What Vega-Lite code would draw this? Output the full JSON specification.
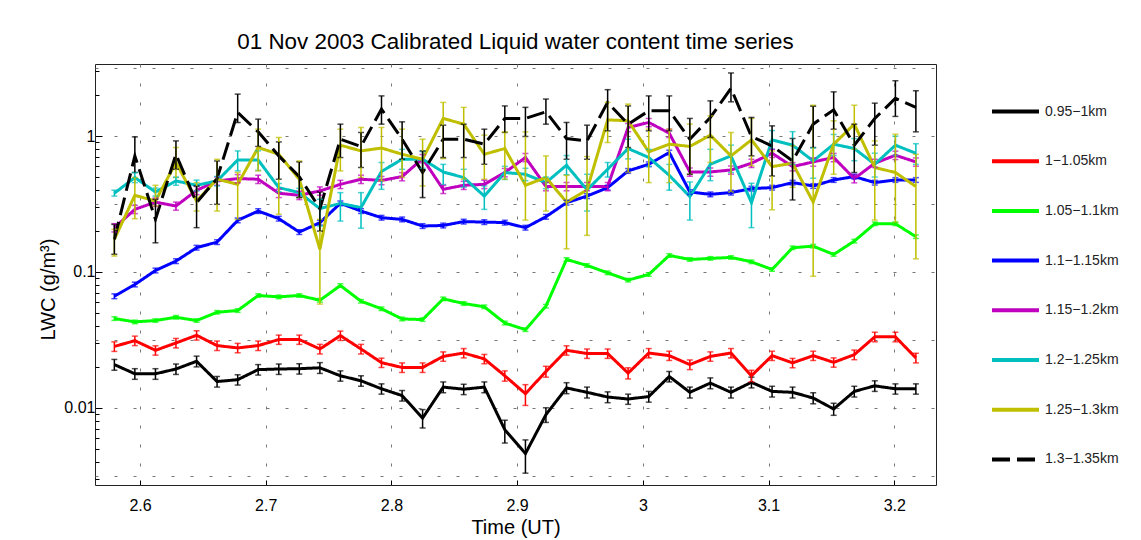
{
"$schema": "https://vega.github.io/schema/vega-lite/v6.json",
"width": 841, "height": 421,
"autosize": {"type": "none"},
"padding": {"left": 95, "top": 64, "right": 205, "bottom": 55},
"background": "white",
"config": {"view": {"stroke": "#222", "strokeWidth": 1}, "font": "Liberation Sans"},
"title": {"text": "01 Nov 2003 Calibrated Liquid water content time series", "fontSize": 22.4, "fontWeight": "normal", "font": "Liberation Sans", "color": "#000", "anchor": "middle", "baseline": "bottom", "offset": -12},
"data": {"values": [
{"t":2.5796,"s":"0.95−1km","v":0.0208,"lo":0.0189,"hi":0.0227},
{"t":2.5959,"s":"0.95−1km","v":0.0178,"lo":0.0162,"hi":0.0194},
{"t":2.6123,"s":"0.95−1km","v":0.0178,"lo":0.0162,"hi":0.0194},
{"t":2.6286,"s":"0.95−1km","v":0.0193,"lo":0.0176,"hi":0.0210},
{"t":2.6450,"s":"0.95−1km","v":0.0220,"lo":0.0200,"hi":0.0240},
{"t":2.6613,"s":"0.95−1km","v":0.0156,"lo":0.0142,"hi":0.0170},
{"t":2.6777,"s":"0.95−1km","v":0.0161,"lo":0.0147,"hi":0.0175},
{"t":2.6940,"s":"0.95−1km","v":0.0191,"lo":0.0174,"hi":0.0208},
{"t":2.7104,"s":"0.95−1km","v":0.0193,"lo":0.0176,"hi":0.0210},
{"t":2.7267,"s":"0.95−1km","v":0.0194,"lo":0.0177,"hi":0.0211},
{"t":2.7431,"s":"0.95−1km","v":0.0197,"lo":0.0179,"hi":0.0215},
{"t":2.7594,"s":"0.95−1km","v":0.0172,"lo":0.0157,"hi":0.0187},
{"t":2.7758,"s":"0.95−1km","v":0.0158,"lo":0.0144,"hi":0.0172},
{"t":2.7921,"s":"0.95−1km","v":0.0138,"lo":0.0126,"hi":0.0150},
{"t":2.8085,"s":"0.95−1km","v":0.0123,"lo":0.0112,"hi":0.0134},
{"t":2.8248,"s":"0.95−1km","v":0.0084,"lo":0.0071,"hi":0.0097},
{"t":2.8412,"s":"0.95−1km","v":0.0142,"lo":0.0129,"hi":0.0155},
{"t":2.8575,"s":"0.95−1km","v":0.0137,"lo":0.0125,"hi":0.0149},
{"t":2.8739,"s":"0.95−1km","v":0.0142,"lo":0.0129,"hi":0.0155},
{"t":2.8902,"s":"0.95−1km","v":0.0069,"lo":0.0055,"hi":0.0081},
{"t":2.9066,"s":"0.95−1km","v":0.0046,"lo":0.0033,"hi":0.0058},
{"t":2.9229,"s":"0.95−1km","v":0.0089,"lo":0.0078,"hi":0.0100},
{"t":2.9393,"s":"0.95−1km","v":0.0140,"lo":0.0127,"hi":0.0153},
{"t":2.9556,"s":"0.95−1km","v":0.0130,"lo":0.0118,"hi":0.0142},
{"t":2.9720,"s":"0.95−1km","v":0.0120,"lo":0.0109,"hi":0.0131},
{"t":2.9883,"s":"0.95−1km","v":0.0116,"lo":0.0106,"hi":0.0126},
{"t":3.0047,"s":"0.95−1km","v":0.0121,"lo":0.0110,"hi":0.0132},
{"t":3.0210,"s":"0.95−1km","v":0.0170,"lo":0.0155,"hi":0.0185},
{"t":3.0374,"s":"0.95−1km","v":0.0130,"lo":0.0118,"hi":0.0142},
{"t":3.0537,"s":"0.95−1km","v":0.0152,"lo":0.0138,"hi":0.0166},
{"t":3.0701,"s":"0.95−1km","v":0.0130,"lo":0.0118,"hi":0.0142},
{"t":3.0864,"s":"0.95−1km","v":0.0154,"lo":0.0140,"hi":0.0168},
{"t":3.1028,"s":"0.95−1km","v":0.0132,"lo":0.0120,"hi":0.0144},
{"t":3.1191,"s":"0.95−1km","v":0.0130,"lo":0.0118,"hi":0.0142},
{"t":3.1355,"s":"0.95−1km","v":0.0118,"lo":0.0107,"hi":0.0129},
{"t":3.1518,"s":"0.95−1km","v":0.0098,"lo":0.0088,"hi":0.0108},
{"t":3.1682,"s":"0.95−1km","v":0.0132,"lo":0.0120,"hi":0.0144},
{"t":3.1845,"s":"0.95−1km","v":0.0145,"lo":0.0132,"hi":0.0158},
{"t":3.2009,"s":"0.95−1km","v":0.0138,"lo":0.0126,"hi":0.0150},
{"t":3.2172,"s":"0.95−1km","v":0.0138,"lo":0.0126,"hi":0.0150},
{"t":2.5796,"s":"1−1.05km","v":0.0283,"lo":0.0260,"hi":0.0306},
{"t":2.5959,"s":"1−1.05km","v":0.0312,"lo":0.0287,"hi":0.0337},
{"t":2.6123,"s":"1−1.05km","v":0.0265,"lo":0.0244,"hi":0.0286},
{"t":2.6286,"s":"1−1.05km","v":0.0300,"lo":0.0276,"hi":0.0324},
{"t":2.6450,"s":"1−1.05km","v":0.0342,"lo":0.0315,"hi":0.0369},
{"t":2.6613,"s":"1−1.05km","v":0.0287,"lo":0.0264,"hi":0.0310},
{"t":2.6777,"s":"1−1.05km","v":0.0276,"lo":0.0254,"hi":0.0298},
{"t":2.6940,"s":"1−1.05km","v":0.0287,"lo":0.0264,"hi":0.0310},
{"t":2.7104,"s":"1−1.05km","v":0.0318,"lo":0.0293,"hi":0.0343},
{"t":2.7267,"s":"1−1.05km","v":0.0318,"lo":0.0293,"hi":0.0343},
{"t":2.7431,"s":"1−1.05km","v":0.0271,"lo":0.0249,"hi":0.0293},
{"t":2.7594,"s":"1−1.05km","v":0.0340,"lo":0.0313,"hi":0.0367},
{"t":2.7758,"s":"1−1.05km","v":0.0271,"lo":0.0249,"hi":0.0293},
{"t":2.7921,"s":"1−1.05km","v":0.0215,"lo":0.0198,"hi":0.0232},
{"t":2.8085,"s":"1−1.05km","v":0.0198,"lo":0.0182,"hi":0.0214},
{"t":2.8248,"s":"1−1.05km","v":0.0198,"lo":0.0182,"hi":0.0214},
{"t":2.8412,"s":"1−1.05km","v":0.0239,"lo":0.0220,"hi":0.0258},
{"t":2.8575,"s":"1−1.05km","v":0.0253,"lo":0.0233,"hi":0.0273},
{"t":2.8739,"s":"1−1.05km","v":0.0229,"lo":0.0211,"hi":0.0247},
{"t":2.8902,"s":"1−1.05km","v":0.0172,"lo":0.0157,"hi":0.0187},
{"t":2.9066,"s":"1−1.05km","v":0.0127,"lo":0.0104,"hi":0.0148},
{"t":2.9229,"s":"1−1.05km","v":0.0185,"lo":0.0168,"hi":0.0202},
{"t":2.9393,"s":"1−1.05km","v":0.0265,"lo":0.0244,"hi":0.0286},
{"t":2.9556,"s":"1−1.05km","v":0.0251,"lo":0.0231,"hi":0.0271},
{"t":2.9720,"s":"1−1.05km","v":0.0251,"lo":0.0231,"hi":0.0271},
{"t":2.9883,"s":"1−1.05km","v":0.0180,"lo":0.0163,"hi":0.0197},
{"t":3.0047,"s":"1−1.05km","v":0.0253,"lo":0.0233,"hi":0.0273},
{"t":3.0210,"s":"1−1.05km","v":0.0242,"lo":0.0223,"hi":0.0261},
{"t":3.0374,"s":"1−1.05km","v":0.0208,"lo":0.0191,"hi":0.0225},
{"t":3.0537,"s":"1−1.05km","v":0.0239,"lo":0.0220,"hi":0.0258},
{"t":3.0701,"s":"1−1.05km","v":0.0253,"lo":0.0233,"hi":0.0273},
{"t":3.0864,"s":"1−1.05km","v":0.0172,"lo":0.0155,"hi":0.0189},
{"t":3.1028,"s":"1−1.05km","v":0.0242,"lo":0.0223,"hi":0.0261},
{"t":3.1191,"s":"1−1.05km","v":0.0214,"lo":0.0197,"hi":0.0231},
{"t":3.1355,"s":"1−1.05km","v":0.0242,"lo":0.0223,"hi":0.0261},
{"t":3.1518,"s":"1−1.05km","v":0.0216,"lo":0.0199,"hi":0.0233},
{"t":3.1682,"s":"1−1.05km","v":0.0246,"lo":0.0226,"hi":0.0266},
{"t":3.1845,"s":"1−1.05km","v":0.0333,"lo":0.0306,"hi":0.0360},
{"t":3.2009,"s":"1−1.05km","v":0.0333,"lo":0.0306,"hi":0.0360},
{"t":3.2172,"s":"1−1.05km","v":0.0233,"lo":0.0214,"hi":0.0252},
{"t":2.5796,"s":"1.05−1.1km","v":0.0454,"lo":0.0440,"hi":0.0468},
{"t":2.5959,"s":"1.05−1.1km","v":0.0429,"lo":0.0416,"hi":0.0442},
{"t":2.6123,"s":"1.05−1.1km","v":0.0439,"lo":0.0426,"hi":0.0452},
{"t":2.6286,"s":"1.05−1.1km","v":0.0464,"lo":0.0450,"hi":0.0478},
{"t":2.6450,"s":"1.05−1.1km","v":0.0439,"lo":0.0426,"hi":0.0452},
{"t":2.6613,"s":"1.05−1.1km","v":0.0505,"lo":0.0490,"hi":0.0520},
{"t":2.6777,"s":"1.05−1.1km","v":0.0520,"lo":0.0504,"hi":0.0536},
{"t":2.6940,"s":"1.05−1.1km","v":0.0671,"lo":0.0651,"hi":0.0691},
{"t":2.7104,"s":"1.05−1.1km","v":0.0656,"lo":0.0636,"hi":0.0676},
{"t":2.7267,"s":"1.05−1.1km","v":0.0671,"lo":0.0651,"hi":0.0691},
{"t":2.7431,"s":"1.05−1.1km","v":0.0619,"lo":0.0600,"hi":0.0638},
{"t":2.7594,"s":"1.05−1.1km","v":0.0795,"lo":0.0771,"hi":0.0819},
{"t":2.7758,"s":"1.05−1.1km","v":0.0609,"lo":0.0591,"hi":0.0627},
{"t":2.7921,"s":"1.05−1.1km","v":0.0536,"lo":0.0520,"hi":0.0552},
{"t":2.8085,"s":"1.05−1.1km","v":0.0451,"lo":0.0437,"hi":0.0465},
{"t":2.8248,"s":"1.05−1.1km","v":0.0446,"lo":0.0433,"hi":0.0459},
{"t":2.8412,"s":"1.05−1.1km","v":0.0634,"lo":0.0615,"hi":0.0653},
{"t":2.8575,"s":"1.05−1.1km","v":0.0586,"lo":0.0568,"hi":0.0604},
{"t":2.8739,"s":"1.05−1.1km","v":0.0554,"lo":0.0537,"hi":0.0571},
{"t":2.8902,"s":"1.05−1.1km","v":0.0421,"lo":0.0408,"hi":0.0434},
{"t":2.9066,"s":"1.05−1.1km","v":0.0376,"lo":0.0365,"hi":0.0387},
{"t":2.9229,"s":"1.05−1.1km","v":0.0560,"lo":0.0543,"hi":0.0577},
{"t":2.9393,"s":"1.05−1.1km","v":0.1236,"lo":0.1199,"hi":0.1273},
{"t":2.9556,"s":"1.05−1.1km","v":0.1117,"lo":0.1083,"hi":0.1151},
{"t":2.9720,"s":"1.05−1.1km","v":0.0986,"lo":0.0956,"hi":0.1016},
{"t":2.9883,"s":"1.05−1.1km","v":0.0871,"lo":0.0845,"hi":0.0897},
{"t":3.0047,"s":"1.05−1.1km","v":0.0959,"lo":0.0930,"hi":0.0988},
{"t":3.0210,"s":"1.05−1.1km","v":0.1324,"lo":0.1284,"hi":0.1364},
{"t":3.0374,"s":"1.05−1.1km","v":0.1236,"lo":0.1199,"hi":0.1273},
{"t":3.0537,"s":"1.05−1.1km","v":0.1259,"lo":0.1221,"hi":0.1297},
{"t":3.0701,"s":"1.05−1.1km","v":0.1280,"lo":0.1242,"hi":0.1318},
{"t":3.0864,"s":"1.05−1.1km","v":0.1189,"lo":0.1153,"hi":0.1225},
{"t":3.1028,"s":"1.05−1.1km","v":0.1043,"lo":0.1012,"hi":0.1074},
{"t":3.1191,"s":"1.05−1.1km","v":0.1508,"lo":0.1463,"hi":0.1553},
{"t":3.1355,"s":"1.05−1.1km","v":0.1550,"lo":0.1504,"hi":0.1597},
{"t":3.1518,"s":"1.05−1.1km","v":0.1346,"lo":0.1306,"hi":0.1386},
{"t":3.1682,"s":"1.05−1.1km","v":0.1688,"lo":0.1637,"hi":0.1739},
{"t":3.1845,"s":"1.05−1.1km","v":0.2265,"lo":0.2197,"hi":0.2333},
{"t":3.2009,"s":"1.05−1.1km","v":0.2265,"lo":0.2197,"hi":0.2333},
{"t":3.2172,"s":"1.05−1.1km","v":0.1820,"lo":0.1765,"hi":0.1875},
{"t":2.5796,"s":"1.1−1.15km","v":0.0663,"lo":0.0636,"hi":0.0690},
{"t":2.5959,"s":"1.1−1.15km","v":0.0809,"lo":0.0777,"hi":0.0841},
{"t":2.6123,"s":"1.1−1.15km","v":0.1026,"lo":0.0985,"hi":0.1067},
{"t":2.6286,"s":"1.1−1.15km","v":0.1202,"lo":0.1154,"hi":0.1250},
{"t":2.6450,"s":"1.1−1.15km","v":0.1510,"lo":0.1450,"hi":0.1570},
{"t":2.6613,"s":"1.1−1.15km","v":0.1660,"lo":0.1594,"hi":0.1726},
{"t":2.6777,"s":"1.1−1.15km","v":0.2399,"lo":0.2303,"hi":0.2495},
{"t":2.6940,"s":"1.1−1.15km","v":0.2810,"lo":0.2698,"hi":0.2922},
{"t":2.7104,"s":"1.1−1.15km","v":0.2470,"lo":0.2371,"hi":0.2569},
{"t":2.7267,"s":"1.1−1.15km","v":0.1968,"lo":0.1889,"hi":0.2047},
{"t":2.7431,"s":"1.1−1.15km","v":0.2307,"lo":0.2215,"hi":0.2399},
{"t":2.7594,"s":"1.1−1.15km","v":0.3204,"lo":0.3076,"hi":0.3332},
{"t":2.7758,"s":"1.1−1.15km","v":0.2810,"lo":0.2698,"hi":0.2922},
{"t":2.7921,"s":"1.1−1.15km","v":0.2510,"lo":0.2410,"hi":0.2610},
{"t":2.8085,"s":"1.1−1.15km","v":0.2440,"lo":0.2342,"hi":0.2538},
{"t":2.8248,"s":"1.1−1.15km","v":0.2180,"lo":0.2093,"hi":0.2267},
{"t":2.8412,"s":"1.1−1.15km","v":0.2200,"lo":0.2112,"hi":0.2288},
{"t":2.8575,"s":"1.1−1.15km","v":0.2350,"lo":0.2256,"hi":0.2444},
{"t":2.8739,"s":"1.1−1.15km","v":0.2330,"lo":0.2237,"hi":0.2423},
{"t":2.8902,"s":"1.1−1.15km","v":0.2310,"lo":0.2218,"hi":0.2402},
{"t":2.9066,"s":"1.1−1.15km","v":0.2120,"lo":0.2035,"hi":0.2205},
{"t":2.9229,"s":"1.1−1.15km","v":0.2550,"lo":0.2448,"hi":0.2652},
{"t":2.9393,"s":"1.1−1.15km","v":0.3240,"lo":0.3110,"hi":0.3370},
{"t":2.9556,"s":"1.1−1.15km","v":0.3620,"lo":0.3475,"hi":0.3765},
{"t":2.9720,"s":"1.1−1.15km","v":0.4180,"lo":0.4013,"hi":0.4347},
{"t":2.9883,"s":"1.1−1.15km","v":0.5550,"lo":0.5328,"hi":0.5772},
{"t":3.0047,"s":"1.1−1.15km","v":0.6210,"lo":0.5962,"hi":0.6458},
{"t":3.0210,"s":"1.1−1.15km","v":0.7580,"lo":0.7277,"hi":0.7883},
{"t":3.0374,"s":"1.1−1.15km","v":0.3880,"lo":0.3725,"hi":0.4035},
{"t":3.0537,"s":"1.1−1.15km","v":0.3730,"lo":0.3581,"hi":0.3879},
{"t":3.0701,"s":"1.1−1.15km","v":0.3840,"lo":0.3686,"hi":0.3994},
{"t":3.0864,"s":"1.1−1.15km","v":0.4110,"lo":0.3946,"hi":0.4274},
{"t":3.1028,"s":"1.1−1.15km","v":0.4180,"lo":0.4013,"hi":0.4347},
{"t":3.1191,"s":"1.1−1.15km","v":0.4550,"lo":0.4368,"hi":0.4732},
{"t":3.1355,"s":"1.1−1.15km","v":0.4300,"lo":0.4128,"hi":0.4472},
{"t":3.1518,"s":"1.1−1.15km","v":0.4760,"lo":0.4570,"hi":0.4950},
{"t":3.1682,"s":"1.1−1.15km","v":0.5040,"lo":0.4838,"hi":0.5242},
{"t":3.1845,"s":"1.1−1.15km","v":0.4550,"lo":0.4368,"hi":0.4732},
{"t":3.2009,"s":"1.1−1.15km","v":0.4760,"lo":0.4570,"hi":0.4950},
{"t":3.2172,"s":"1.1−1.15km","v":0.4760,"lo":0.4570,"hi":0.4950},
{"t":2.5796,"s":"1.15−1.2km","v":0.212,"lo":0.197,"hi":0.227},
{"t":2.5959,"s":"1.15−1.2km","v":0.289,"lo":0.269,"hi":0.309},
{"t":2.6123,"s":"1.15−1.2km","v":0.327,"lo":0.304,"hi":0.350},
{"t":2.6286,"s":"1.15−1.2km","v":0.306,"lo":0.285,"hi":0.327},
{"t":2.6450,"s":"1.15−1.2km","v":0.399,"lo":0.371,"hi":0.427},
{"t":2.6613,"s":"1.15−1.2km","v":0.468,"lo":0.435,"hi":0.501},
{"t":2.6777,"s":"1.15−1.2km","v":0.487,"lo":0.453,"hi":0.521},
{"t":2.6940,"s":"1.15−1.2km","v":0.482,"lo":0.448,"hi":0.516},
{"t":2.7104,"s":"1.15−1.2km","v":0.380,"lo":0.353,"hi":0.407},
{"t":2.7267,"s":"1.15−1.2km","v":0.367,"lo":0.341,"hi":0.393},
{"t":2.7431,"s":"1.15−1.2km","v":0.395,"lo":0.367,"hi":0.423},
{"t":2.7594,"s":"1.15−1.2km","v":0.442,"lo":0.411,"hi":0.473},
{"t":2.7758,"s":"1.15−1.2km","v":0.482,"lo":0.448,"hi":0.516},
{"t":2.7921,"s":"1.15−1.2km","v":0.472,"lo":0.439,"hi":0.505},
{"t":2.8085,"s":"1.15−1.2km","v":0.504,"lo":0.469,"hi":0.539},
{"t":2.8248,"s":"1.15−1.2km","v":0.684,"lo":0.636,"hi":0.732},
{"t":2.8412,"s":"1.15−1.2km","v":0.406,"lo":0.378,"hi":0.434},
{"t":2.8575,"s":"1.15−1.2km","v":0.435,"lo":0.405,"hi":0.465},
{"t":2.8739,"s":"1.15−1.2km","v":0.442,"lo":0.411,"hi":0.473},
{"t":2.8902,"s":"1.15−1.2km","v":0.540,"lo":0.502,"hi":0.578},
{"t":2.9066,"s":"1.15−1.2km","v":0.697,"lo":0.648,"hi":0.746},
{"t":2.9229,"s":"1.15−1.2km","v":0.426,"lo":0.396,"hi":0.456},
{"t":2.9393,"s":"1.15−1.2km","v":0.426,"lo":0.396,"hi":0.456},
{"t":2.9556,"s":"1.15−1.2km","v":0.426,"lo":0.396,"hi":0.456},
{"t":2.9720,"s":"1.15−1.2km","v":0.426,"lo":0.396,"hi":0.456},
{"t":2.9883,"s":"1.15−1.2km","v":1.159,"lo":1.078,"hi":1.240},
{"t":3.0047,"s":"1.15−1.2km","v":1.262,"lo":1.174,"hi":1.350},
{"t":3.0210,"s":"1.15−1.2km","v":1.052,"lo":0.978,"hi":1.126},
{"t":3.0374,"s":"1.15−1.2km","v":0.545,"lo":0.507,"hi":0.583},
{"t":3.0537,"s":"1.15−1.2km","v":0.545,"lo":0.507,"hi":0.583},
{"t":3.0701,"s":"1.15−1.2km","v":0.564,"lo":0.525,"hi":0.603},
{"t":3.0864,"s":"1.15−1.2km","v":0.632,"lo":0.588,"hi":0.676},
{"t":3.1028,"s":"1.15−1.2km","v":0.749,"lo":0.697,"hi":0.801},
{"t":3.1191,"s":"1.15−1.2km","v":0.597,"lo":0.555,"hi":0.639},
{"t":3.1355,"s":"1.15−1.2km","v":0.646,"lo":0.601,"hi":0.691},
{"t":3.1518,"s":"1.15−1.2km","v":0.697,"lo":0.648,"hi":0.746},
{"t":3.1682,"s":"1.15−1.2km","v":0.487,"lo":0.453,"hi":0.521},
{"t":3.1845,"s":"1.15−1.2km","v":0.632,"lo":0.588,"hi":0.676},
{"t":3.2009,"s":"1.15−1.2km","v":0.724,"lo":0.673,"hi":0.775},
{"t":3.2172,"s":"1.15−1.2km","v":0.646,"lo":0.601,"hi":0.691},
{"t":2.5796,"s":"1.2−1.25km","v":0.380,"lo":0.362,"hi":0.400},
{"t":2.5959,"s":"1.2−1.25km","v":0.496,"lo":0.455,"hi":0.540},
{"t":2.6123,"s":"1.2−1.25km","v":0.388,"lo":0.362,"hi":0.415},
{"t":2.6286,"s":"1.2−1.25km","v":0.468,"lo":0.435,"hi":0.500},
{"t":2.6450,"s":"1.2−1.25km","v":0.435,"lo":0.395,"hi":0.475},
{"t":2.6613,"s":"1.2−1.25km","v":0.468,"lo":0.430,"hi":0.505},
{"t":2.6777,"s":"1.2−1.25km","v":0.668,"lo":0.555,"hi":0.779},
{"t":2.6940,"s":"1.2−1.25km","v":0.668,"lo":0.560,"hi":0.780},
{"t":2.7104,"s":"1.2−1.25km","v":0.418,"lo":0.390,"hi":0.448},
{"t":2.7267,"s":"1.2−1.25km","v":0.384,"lo":0.355,"hi":0.413},
{"t":2.7431,"s":"1.2−1.25km","v":0.293,"lo":0.218,"hi":0.343},
{"t":2.7594,"s":"1.2−1.25km","v":0.320,"lo":0.237,"hi":0.384},
{"t":2.7758,"s":"1.2−1.25km","v":0.298,"lo":0.210,"hi":0.384},
{"t":2.7921,"s":"1.2−1.25km","v":0.550,"lo":0.406,"hi":0.640},
{"t":2.8085,"s":"1.2−1.25km","v":0.676,"lo":0.570,"hi":0.800},
{"t":2.8248,"s":"1.2−1.25km","v":0.676,"lo":0.580,"hi":0.770},
{"t":2.8412,"s":"1.2−1.25km","v":0.545,"lo":0.440,"hi":0.620},
{"t":2.8575,"s":"1.2−1.25km","v":0.496,"lo":0.420,"hi":0.570},
{"t":2.8739,"s":"1.2−1.25km","v":0.362,"lo":0.289,"hi":0.430},
{"t":2.8902,"s":"1.2−1.25km","v":0.540,"lo":0.480,"hi":0.600},
{"t":2.9066,"s":"1.2−1.25km","v":0.524,"lo":0.470,"hi":0.580},
{"t":2.9229,"s":"1.2−1.25km","v":0.455,"lo":0.410,"hi":0.500},
{"t":2.9393,"s":"1.2−1.25km","v":0.611,"lo":0.520,"hi":0.720},
{"t":2.9556,"s":"1.2−1.25km","v":0.402,"lo":0.281,"hi":0.524},
{"t":2.9720,"s":"1.2−1.25km","v":0.571,"lo":0.500,"hi":0.640},
{"t":2.9883,"s":"1.2−1.25km","v":0.811,"lo":0.680,"hi":0.950},
{"t":3.0047,"s":"1.2−1.25km","v":0.697,"lo":0.600,"hi":0.800},
{"t":3.0210,"s":"1.2−1.25km","v":0.515,"lo":0.400,"hi":0.620},
{"t":3.0374,"s":"1.2−1.25km","v":0.359,"lo":0.241,"hi":0.460},
{"t":3.0537,"s":"1.2−1.25km","v":0.621,"lo":0.470,"hi":0.800},
{"t":3.0701,"s":"1.2−1.25km","v":0.716,"lo":0.540,"hi":0.860},
{"t":3.0864,"s":"1.2−1.25km","v":0.324,"lo":0.212,"hi":0.450},
{"t":3.1028,"s":"1.2−1.25km","v":0.939,"lo":0.800,"hi":1.100},
{"t":3.1191,"s":"1.2−1.25km","v":0.858,"lo":0.620,"hi":1.080},
{"t":3.1355,"s":"1.2−1.25km","v":0.657,"lo":0.490,"hi":0.820},
{"t":3.1518,"s":"1.2−1.25km","v":0.873,"lo":0.720,"hi":1.030},
{"t":3.1682,"s":"1.2−1.25km","v":0.811,"lo":0.660,"hi":0.960},
{"t":3.1845,"s":"1.2−1.25km","v":0.621,"lo":0.500,"hi":0.750},
{"t":3.2009,"s":"1.2−1.25km","v":0.858,"lo":0.720,"hi":1.000},
{"t":3.2172,"s":"1.2−1.25km","v":0.749,"lo":0.620,"hi":0.880},
{"t":2.5796,"s":"1.25−1.3km","v":0.174,"lo":0.131,"hi":0.206},
{"t":2.5959,"s":"1.25−1.3km","v":0.367,"lo":0.247,"hi":0.496},
{"t":2.6123,"s":"1.25−1.3km","v":0.333,"lo":0.306,"hi":0.435},
{"t":2.6286,"s":"1.25−1.3km","v":0.640,"lo":0.496,"hi":0.825},
{"t":2.6450,"s":"1.25−1.3km","v":0.333,"lo":0.281,"hi":0.455},
{"t":2.6613,"s":"1.25−1.3km","v":0.482,"lo":0.281,"hi":0.676},
{"t":2.6777,"s":"1.25−1.3km","v":0.442,"lo":0.244,"hi":0.540},
{"t":2.6940,"s":"1.25−1.3km","v":0.825,"lo":0.555,"hi":1.126},
{"t":2.7104,"s":"1.25−1.3km","v":0.736,"lo":0.266,"hi":0.978},
{"t":2.7267,"s":"1.25−1.3km","v":0.482,"lo":0.353,"hi":0.657},
{"t":2.7431,"s":"1.25−1.3km","v":0.147,"lo":0.058,"hi":0.244},
{"t":2.7594,"s":"1.25−1.3km","v":0.858,"lo":0.555,"hi":1.126},
{"t":2.7758,"s":"1.25−1.3km","v":0.779,"lo":0.496,"hi":1.159},
{"t":2.7921,"s":"1.25−1.3km","v":0.818,"lo":0.468,"hi":1.159},
{"t":2.8085,"s":"1.25−1.3km","v":0.736,"lo":0.496,"hi":1.126},
{"t":2.8248,"s":"1.25−1.3km","v":0.676,"lo":0.430,"hi":0.950},
{"t":2.8412,"s":"1.25−1.3km","v":1.351,"lo":0.684,"hi":1.773},
{"t":2.8575,"s":"1.25−1.3km","v":1.226,"lo":0.482,"hi":1.630},
{"t":2.8739,"s":"1.25−1.3km","v":0.736,"lo":0.482,"hi":1.017},
{"t":2.8902,"s":"1.25−1.3km","v":0.811,"lo":0.482,"hi":1.076},
{"t":2.9066,"s":"1.25−1.3km","v":0.435,"lo":0.241,"hi":1.076},
{"t":2.9229,"s":"1.25−1.3km","v":0.496,"lo":0.281,"hi":0.716},
{"t":2.9393,"s":"1.25−1.3km","v":0.327,"lo":0.148,"hi":0.515},
{"t":2.9556,"s":"1.25−1.3km","v":0.402,"lo":0.186,"hi":0.708},
{"t":2.9720,"s":"1.25−1.3km","v":1.319,"lo":0.898,"hi":1.773},
{"t":2.9883,"s":"1.25−1.3km","v":1.297,"lo":0.540,"hi":1.723},
{"t":3.0047,"s":"1.25−1.3km","v":0.766,"lo":0.455,"hi":1.126},
{"t":3.0210,"s":"1.25−1.3km","v":0.873,"lo":0.455,"hi":1.126},
{"t":3.0374,"s":"1.25−1.3km","v":0.840,"lo":0.524,"hi":1.226},
{"t":3.0537,"s":"1.25−1.3km","v":1.017,"lo":0.640,"hi":1.410},
{"t":3.0701,"s":"1.25−1.3km","v":0.716,"lo":0.388,"hi":1.065},
{"t":3.0864,"s":"1.25−1.3km","v":0.939,"lo":0.604,"hi":1.351},
{"t":3.1028,"s":"1.25−1.3km","v":0.597,"lo":0.287,"hi":0.779},
{"t":3.1191,"s":"1.25−1.3km","v":0.632,"lo":0.420,"hi":0.850},
{"t":3.1355,"s":"1.25−1.3km","v":0.327,"lo":0.093,"hi":1.690},
{"t":3.1518,"s":"1.25−1.3km","v":0.873,"lo":0.524,"hi":1.297},
{"t":3.1682,"s":"1.25−1.3km","v":1.226,"lo":0.802,"hi":1.690},
{"t":3.1845,"s":"1.25−1.3km","v":0.588,"lo":0.241,"hi":0.923},
{"t":3.2009,"s":"1.25−1.3km","v":0.540,"lo":0.231,"hi":1.034},
{"t":3.2172,"s":"1.25−1.3km","v":0.426,"lo":0.125,"hi":0.736},
{"t":2.5796,"s":"1.3−1.35km","v":0.174,"lo":0.135,"hi":0.224},
{"t":2.5959,"s":"1.3−1.35km","v":0.716,"lo":0.540,"hi":0.988},
{"t":2.6123,"s":"1.3−1.35km","v":0.244,"lo":0.164,"hi":0.343},
{"t":2.6286,"s":"1.3−1.35km","v":0.736,"lo":0.571,"hi":0.923},
{"t":2.6450,"s":"1.3−1.35km","v":0.324,"lo":0.212,"hi":0.430},
{"t":2.6613,"s":"1.3−1.35km","v":0.487,"lo":0.315,"hi":0.657},
{"t":2.6777,"s":"1.3−1.35km","v":1.495,"lo":1.260,"hi":2.040},
{"t":2.6940,"s":"1.3−1.35km","v":1.076,"lo":0.840,"hi":1.335},
{"t":2.7104,"s":"1.3−1.35km","v":0.716,"lo":0.482,"hi":0.907},
{"t":2.7267,"s":"1.3−1.35km","v":0.504,"lo":0.353,"hi":0.646},
{"t":2.7431,"s":"1.3−1.35km","v":0.293,"lo":0.200,"hi":0.388},
{"t":2.7594,"s":"1.3−1.35km","v":0.950,"lo":0.696,"hi":1.226},
{"t":2.7758,"s":"1.3−1.35km","v":0.840,"lo":0.588,"hi":1.065},
{"t":2.7921,"s":"1.3−1.35km","v":1.582,"lo":1.226,"hi":1.980},
{"t":2.8085,"s":"1.3−1.35km","v":0.950,"lo":0.676,"hi":1.275},
{"t":2.8248,"s":"1.3−1.35km","v":0.540,"lo":0.353,"hi":0.779},
{"t":2.8412,"s":"1.3−1.35km","v":0.950,"lo":0.696,"hi":1.205},
{"t":2.8575,"s":"1.3−1.35km","v":0.950,"lo":0.696,"hi":1.226},
{"t":2.8739,"s":"1.3−1.35km","v":0.873,"lo":0.621,"hi":1.126},
{"t":2.8902,"s":"1.3−1.35km","v":1.351,"lo":1.065,"hi":1.670},
{"t":2.9066,"s":"1.3−1.35km","v":1.351,"lo":0.995,"hi":1.630},
{"t":2.9229,"s":"1.3−1.35km","v":1.512,"lo":1.226,"hi":1.876},
{"t":2.9393,"s":"1.3−1.35km","v":0.962,"lo":0.676,"hi":1.262},
{"t":2.9556,"s":"1.3−1.35km","v":0.923,"lo":0.676,"hi":1.205},
{"t":2.9720,"s":"1.3−1.35km","v":1.773,"lo":1.094,"hi":2.200},
{"t":2.9883,"s":"1.3−1.35km","v":1.226,"lo":0.825,"hi":1.670},
{"t":3.0047,"s":"1.3−1.35km","v":1.537,"lo":1.094,"hi":1.980},
{"t":3.0210,"s":"1.3−1.35km","v":1.537,"lo":1.094,"hi":1.980},
{"t":3.0374,"s":"1.3−1.35km","v":0.950,"lo":0.524,"hi":1.351},
{"t":3.0537,"s":"1.3−1.35km","v":1.374,"lo":0.978,"hi":1.820},
{"t":3.0701,"s":"1.3−1.35km","v":2.250,"lo":1.790,"hi":2.920},
{"t":3.0864,"s":"1.3−1.35km","v":0.995,"lo":0.716,"hi":1.374},
{"t":3.1028,"s":"1.3−1.35km","v":0.848,"lo":0.509,"hi":1.191},
{"t":3.1191,"s":"1.3−1.35km","v":0.657,"lo":0.339,"hi":0.962},
{"t":3.1355,"s":"1.3−1.35km","v":1.226,"lo":0.825,"hi":1.660},
{"t":3.1518,"s":"1.3−1.35km","v":1.562,"lo":1.126,"hi":2.120},
{"t":3.1682,"s":"1.3−1.35km","v":0.858,"lo":0.540,"hi":1.226},
{"t":3.1845,"s":"1.3−1.35km","v":1.351,"lo":0.858,"hi":1.750},
{"t":3.2009,"s":"1.3−1.35km","v":1.898,"lo":1.398,"hi":2.560},
{"t":3.2172,"s":"1.3−1.35km","v":1.629,"lo":1.076,"hi":2.160}
]},
"layer": [
{"mark": {"type": "line", "strokeWidth": 3, "strokeCap": "butt", "strokeJoin": "miter"},
 "encoding": {
  "x": {"field": "t", "type": "quantitative", "scale": {"domain": [2.5642, 3.2332], "nice": false, "zero": false},
        "axis": {"orient": "bottom", "values": [2.6, 2.7, 2.8, 2.9, 3, 3.1, 3.2], "format": "~g", "grid": false, "domain": false, "tickSize": -5, "tickColor": "#000", "labelPadding": 17, "labelFontSize": 16, "labelColor": "#000", "labelFont": "Liberation Sans", "title": "Time (UT)", "titleFont": "Liberation Sans", "titleFontSize": 20, "titleFontWeight": "normal", "titleColor": "#000", "titleY": 42, "titleBaseline": "middle"}},
  "y": {"field": "v", "type": "quantitative", "scale": {"type": "log", "domain": [0.0027, 3.4], "nice": false},
        "axis": {"orient": "left", "values": [0.01, 0.1, 1], "format": "~g", "grid": false, "domain": false, "tickSize": -7, "tickColor": "#000", "labelPadding": 7, "labelFontSize": 16, "labelColor": "#000", "labelFont": "Liberation Sans", "title": "LWC (g/m³)", "titleFont": "Liberation Sans", "titleFontSize": 20, "titleFontWeight": "normal", "titleColor": "#000", "titleX": -47, "titleY": 225, "titleBaseline": "middle", "titleAlign": "center"}},
  "color": {"field": "s", "type": "nominal",
    "scale": {"domain": ["0.95−1km", "1−1.05km", "1.05−1.1km", "1.1−1.15km", "1.15−1.2km", "1.2−1.25km", "1.25−1.3km", "1.3−1.35km"],
              "range": ["#000000", "#ff0000", "#00ff00", "#0000ff", "#bf00bf", "#00bfbf", "#bfbf00", "#000000"]},
    "legend": {"title": null, "orient": "none", "legendX": 895, "legendY": 22, "symbolType": "stroke", "symbolSize": 2209, "symbolStrokeWidth": 4, "labelFontSize": 14, "labelFont": "Liberation Sans", "labelColor": "#222", "labelOffset": 4, "rowPadding": 15.7, "padding": 0}},
  "strokeDash": {"field": "s", "type": "nominal",
    "scale": {"domain": ["0.95−1km", "1−1.05km", "1.05−1.1km", "1.1−1.15km", "1.15−1.2km", "1.2−1.25km", "1.25−1.3km", "1.3−1.35km"],
              "range": [[1, 0], [1, 0], [1, 0], [1, 0], [1, 0], [1, 0], [1, 0], [18, 7]]}}
 }},
{"mark": {"type": "errorbar", "ticks": {"size": 6}, "thickness": 1.5},
 "encoding": {
  "x": {"field": "t", "type": "quantitative", "axis": {"orient": "bottom", "values": [2.6, 2.7, 2.8, 2.9, 3, 3.1, 3.2], "grid": true, "gridDash": [3, 16], "gridColor": "#777", "gridWidth": 1, "ticks": false, "labels": false, "domain": false, "title": null}},
  "y": {"field": "lo", "type": "quantitative", "axis": {"orient": "left", "values": [0.0031623, 0.01, 0.031623, 0.1, 0.31623, 1, 3.1623], "grid": true, "gridDash": [3, 16], "gridColor": "#777", "gridWidth": 1, "ticks": false, "labels": false, "domain": false, "title": null}},
  "y2": {"field": "hi"},
  "color": {"field": "s", "type": "nominal", "legend": null}
 }},
{"mark": {"type": "point", "opacity": 0},
 "encoding": {
  "x": {"field": "t", "type": "quantitative", "axis": null},
  "y": {"field": "v", "type": "quantitative", "axis": {"orient": "left", "values": [0.003, 0.004, 0.005, 0.006, 0.007, 0.008, 0.009, 0.02, 0.03, 0.04, 0.05, 0.06, 0.07, 0.08, 0.09, 0.2, 0.3, 0.4, 0.5, 0.6, 0.7, 0.8, 0.9, 2, 3], "ticks": true, "tickSize": -4, "tickColor": "#000", "labels": false, "domain": false, "grid": false, "title": null}}
 }}
],
"resolve": {"axis": {"x": "independent", "y": "independent"}}
}
